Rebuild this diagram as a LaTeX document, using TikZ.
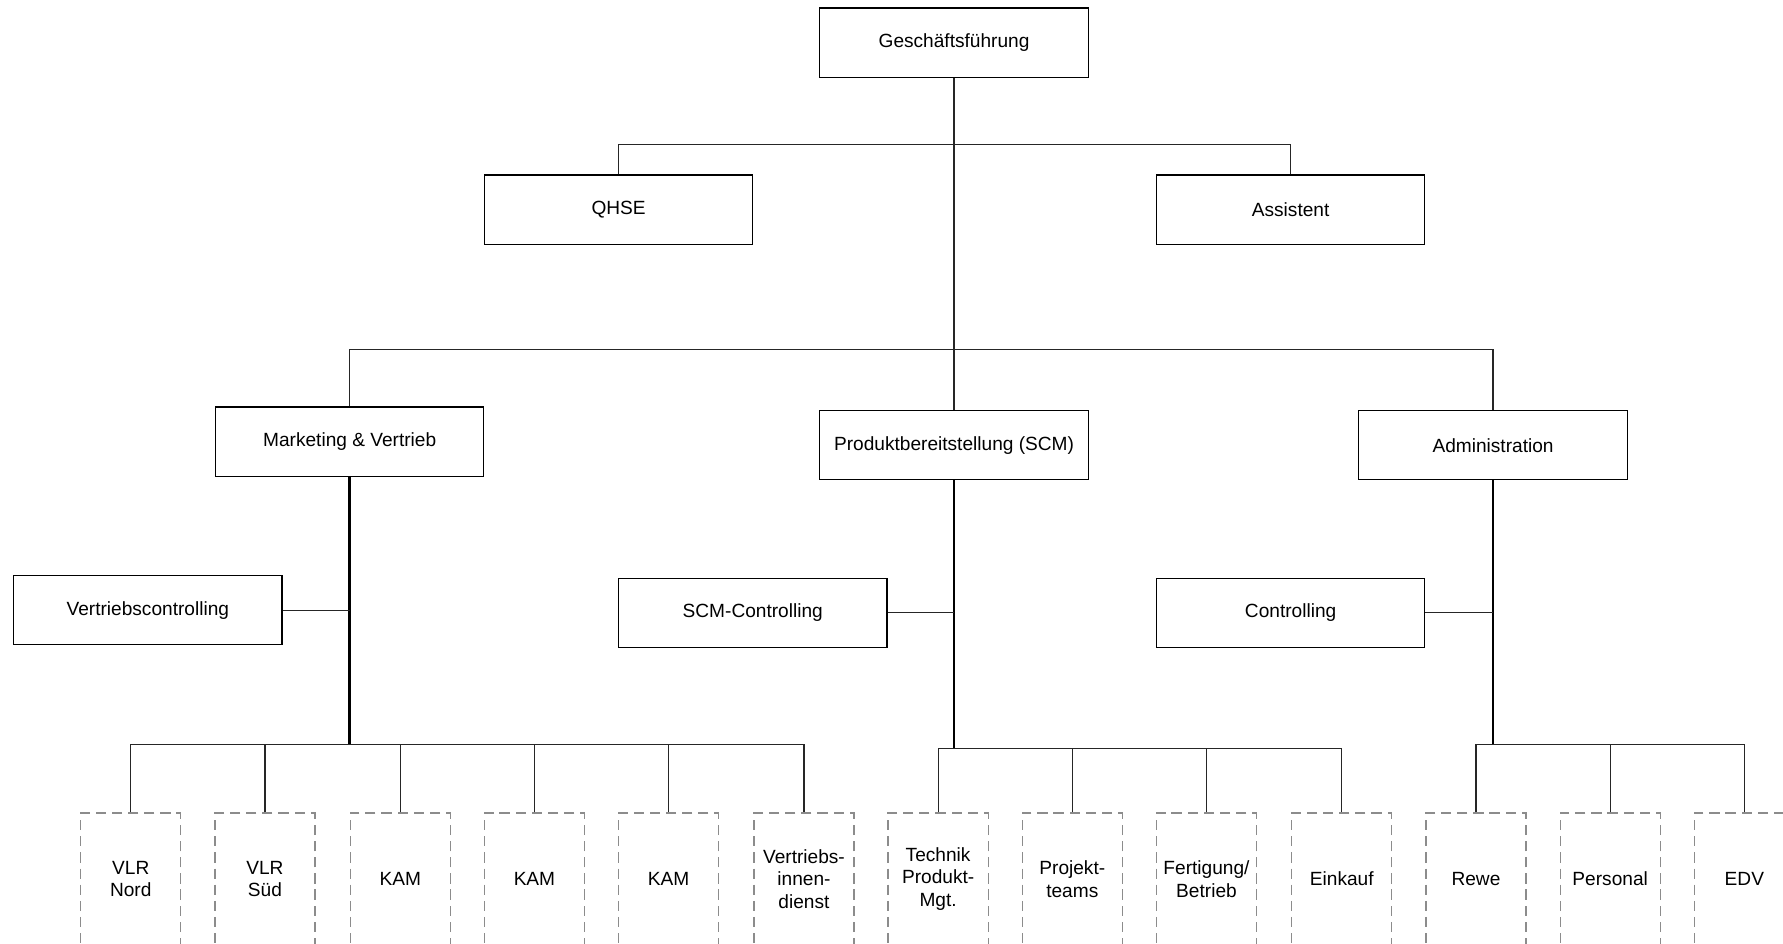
\documentclass[tikz,border=0pt]{standalone}
\usepackage{fontspec}
\setmainfont{Liberation Sans}
\begin{document}
\begin{tikzpicture}[x=0.5pt,y=-0.5pt,
  box/.style={draw=black, line width=0.55pt, minimum width=118pt, minimum height=30.5pt, inner sep=0pt, font=\fontsize{8.4}{10}\selectfont, align=center},
  sub/.style={draw=black!45, line width=0.55pt, dash pattern=on 4.5pt off 2.6pt, minimum width=44pt, minimum height=58pt, inner sep=0pt, font=\fontsize{8.4}{10}\selectfont, align=center},
  conn/.style={draw=black!85, line width=0.5pt},
  spine/.style={draw=black, line width=1.1pt}]
\clip (0,0) rectangle (1568,830);
\fill[white] (0,0) rectangle (1568,830);
% top level
\node[box] (gf) at (839,37.5) {Geschäftsführung};
\node[box] (qhse) at (544,184.5) {QHSE};
\node[box] (assist) at (1135,184.5) {Assistent};
\node[box] (mkt) at (307.5,388.5) {Marketing \& Vertrieb};
\node[box] (prod) at (839,391.5) {Produktbereitstellung (SCM)};
\node[box] (admin) at (1313,391.5) {Administration};
\node[box] (vc) at (130,536.5) {Vertriebscontrolling};
\node[box] (scmc) at (662,539) {SCM-Controlling};
\node[box] (ctrl) at (1135,539) {Controlling};
% bottom dashed boxes
\node[sub] (b1) at (115,773) {VLR\\Nord};
\node[sub] (b2) at (233,773) {VLR\\Süd};
\node[sub] (b3) at (352,773) {KAM};
\node[sub] (b4) at (470,773) {KAM};
\node[sub] (b5) at (588,773) {KAM};
\node[sub] (b6) at (707,773) {Vertriebs-\\innen-\\dienst};
\node[sub] (b7) at (825,773) {Technik\\Produkt-\\Mgt.};
\node[sub] (b8) at (943,773) {Projekt-\\teams};
\node[sub] (b9) at (1061,773) {Fertigung/\\Betrieb};
\node[sub] (b10) at (1180,773) {Einkauf};
\node[sub] (b11) at (1298,773) {Rewe};
\node[sub] (b12) at (1416,773) {Personal};
\node[sub] (b13) at (1534,773) {EDV};
% junctions
\coordinate (j1) at (839,127);
\coordinate (j2) at (839,307);
\coordinate (mbus) at (307.5,655);
\coordinate (pbus) at (839,658);
\coordinate (abus) at (1313,655);
% connectors
\draw[conn] (gf.south) -- (prod.north);
\draw[conn] (qhse.north) |- (j1) -| (assist.north);
\draw[conn] (mkt.north) |- (j2) -| (admin.north);
\draw[spine] (mkt.south) -- (mbus);
\draw[spine] (prod.south) -- (pbus);
\draw[spine] (admin.south) -- (abus);
\draw[conn] (vc.east) -- (vc.east -| mkt.south);
\draw[conn] (scmc.east) -- (scmc.east -| prod.south);
\draw[conn] (ctrl.east) -- (ctrl.east -| admin.south);
\draw[conn] (b1.north) |- (b6.north |- mbus) -- (b6.north);
\foreach \n in {b2,b3,b4,b5} \draw[conn] (\n.north) -- (\n.north |- mbus);
\draw[conn] (b7.north) |- (b10.north |- pbus) -- (b10.north);
\foreach \n in {b8,b9} \draw[conn] (\n.north) -- (\n.north |- pbus);
\draw[conn] (b11.north) |- (b13.north |- abus) -- (b13.north);
\draw[conn] (b12.north) -- (b12.north |- abus);
\end{tikzpicture}
\end{document}
